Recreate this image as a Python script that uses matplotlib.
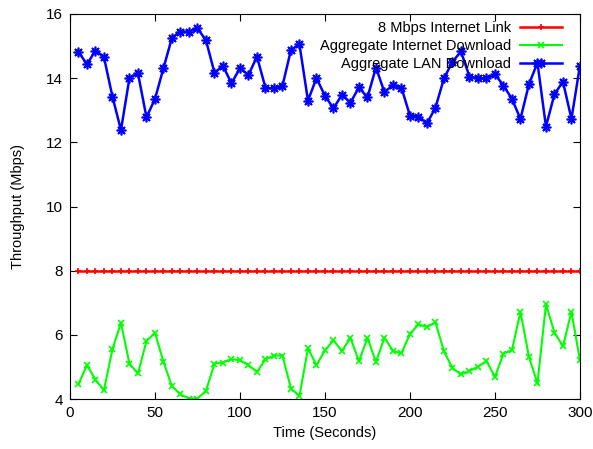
import matplotlib
matplotlib.use("Agg")
import matplotlib.pyplot as plt
import numpy as np

plt.rcParams["font.family"] = ["Liberation Sans", "DejaVu Sans"]

TIME = np.arange(5, 301, 5)

LINK = [8.0] * len(TIME)

INTERNET = [
    4.47, 5.06, 4.61, 4.28, 5.56, 6.38, 5.10, 4.80, 5.81, 6.07,
    5.16, 4.40, 4.15, 4.02, 4.02, 4.26, 5.11, 5.14, 5.25, 5.21,
    5.06, 4.85, 5.24, 5.36, 5.36, 4.33, 4.10, 5.58, 5.06, 5.52,
    5.83, 5.50, 5.91, 5.18, 5.91, 5.16, 5.92, 5.50, 5.43, 6.03,
    6.33, 6.25, 6.39, 5.49, 4.97, 4.77, 4.88, 5.01, 5.19, 4.69,
    5.42, 5.53, 6.72, 5.32, 4.49, 6.95, 6.07, 5.65, 6.72, 5.21,
]

LAN = [
    14.82, 14.43, 14.86, 14.65, 13.42, 12.38, 14.01, 14.15, 12.78, 13.35,
    14.31, 15.26, 15.45, 15.45, 15.55, 15.18, 14.17, 14.38, 13.84, 14.31,
    14.10, 14.67, 13.70, 13.68, 13.76, 14.88, 15.05, 13.30, 14.00, 13.45,
    13.06, 13.48, 13.24, 13.71, 13.40, 14.33, 13.56, 13.79, 13.70, 12.83,
    12.80, 12.59, 13.08, 13.99, 14.51, 14.83, 14.05, 13.99, 13.99, 14.12,
    13.77, 13.35, 12.73, 13.81, 14.48, 12.49, 13.50, 13.89, 12.73, 14.39,
]


def main() -> None:
    fig = plt.figure(figsize=(5.93, 4.49), dpi=100)
    ax = fig.add_axes([0.118, 0.111, 0.86, 0.858])

    ax.plot(TIME, LINK, color="#ff0000", linewidth=1.8, marker="+",
            markersize=5, markeredgewidth=1.2, label="8 Mbps Internet Link")
    ax.plot(TIME, INTERNET, color="#00ff00", linewidth=1.5, marker="x",
            markersize=5, markeredgewidth=1.2, label="Aggregate Internet Download")
    ax.plot(TIME, LAN, color="#0000ff", linewidth=1.8, marker=(8, 2, 0),
            markersize=7, markeredgewidth=1.2, label="Aggregate LAN Download")

    ax.set_xlim(0, 300)
    ax.set_ylim(4, 16)
    ax.set_xticks(np.arange(0, 301, 50))
    ax.set_yticks(np.arange(4, 17, 2))
    ax.tick_params(direction="in", top=True, right=True, length=5,
                   labelsize=11, pad=5)
    ax.set_xlabel("Time (Seconds)", fontsize=10.5, labelpad=4)
    ax.set_ylabel("Throughput (Mbps)", fontsize=10.5, labelpad=15)

    ax.legend(loc="upper right", bbox_to_anchor=(0.985, 1.007),
              frameon=False, markerfirst=False,
              fontsize=10.5, handlelength=2.9, labelspacing=0.25,
              borderaxespad=0.3, handletextpad=0.6)

    fig.savefig("out.png", dpi=100)
    plt.close(fig)


if __name__ == "__main__":
    main()
